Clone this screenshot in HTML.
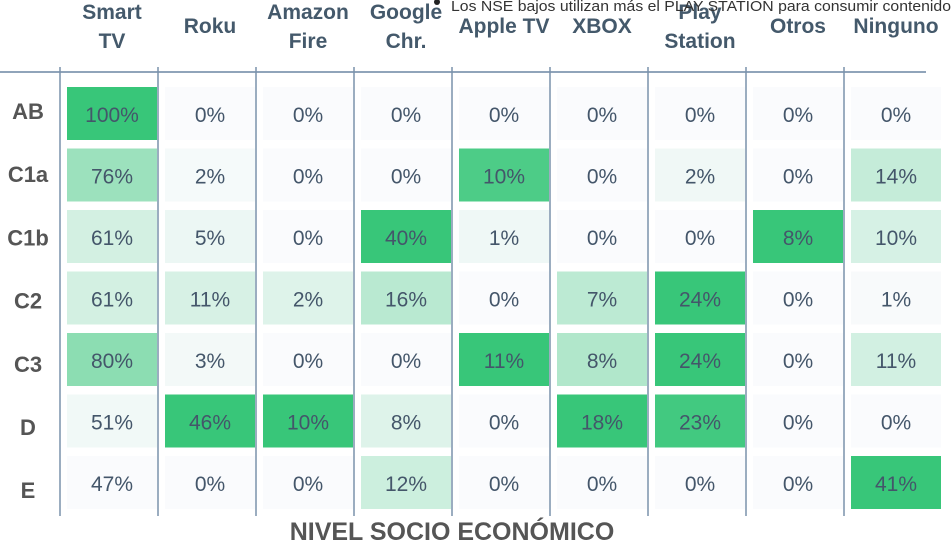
<!DOCTYPE html>
<html><head><meta charset="utf-8"><style>
html,body{margin:0;padding:0;background:#fff;width:951px;height:552px;overflow:hidden}
svg{display:block}
</style></head><body>
<svg id="chart" width="951" height="552" font-family="Liberation Sans, DejaVu Sans, sans-serif">
<g id="grid"></g>
<g id="cells"></g>
<g id="heads"></g>
<g id="rowl"></g>
<circle cx="437" cy="2" r="3" fill="#222"/>
<text x="451" y="11" font-size="14.5" fill="#333" textLength="500" lengthAdjust="spacingAndGlyphs">Los NSE bajos utilizan más el PLAY STATION para consumir contenido</text>
<text x="452" y="540" text-anchor="middle" font-size="25" font-weight="bold" fill="#555">NIVEL SOCIO ECONÓMICO</text>
</svg>
<script>
const columns = [["Smart","TV"],["Roku"],["Amazon","Fire"],["Google","Chr."],["Apple TV"],["XBOX"],["Play","Station"],["Otros"],["Ninguno"]];
const rows = ["AB","C1a","C1b","C2","C3","D","E"];
const values = [
 [100,0,0,0,0,0,0,0,0],
 [76,2,0,0,10,0,2,0,14],
 [61,5,0,40,1,0,0,8,10],
 [61,11,2,16,0,7,24,0,1],
 [80,3,0,0,11,8,24,0,11],
 [51,46,10,8,0,18,23,0,0],
 [47,0,0,12,0,0,0,0,41]
];
const NS='http://www.w3.org/2000/svg';
const colX = i => 67 + i*98;
const rowY = j => 87 + j*61.5;
const cw=90, ch=53;
function mk(t,a,p){const e=document.createElementNS(NS,t);for(const k in a)e.setAttribute(k,a[k]);p.appendChild(e);return e;}
function mix(t){t=Math.pow(t,1.2);const a=[250,251,253],b=[56,198,121];return 'rgb('+a.map((v,i)=>Math.round(v+(b[i]-v)*t)).join(',')+')';}
const grid=document.getElementById('grid');
const hl=mk('line',{x1:0,x2:926,y1:72,y2:72,stroke:'#6b86a3','stroke-width':1.5},grid);


for(let i=0;i<columns.length;i++){
  const l=mk('line',{x1:colX(i)-7,x2:colX(i)-7,y1:67,y2:516,stroke:'#7a92ab','stroke-width':1.5},grid);
  
  
}
const cells=document.getElementById('cells');
for(let i=0;i<columns.length;i++){
  const col=values.map(r=>r[i]);const mn=Math.min(...col),mx=Math.max(...col);
  for(let j=0;j<rows.length;j++){
    const v=values[j][i];const t=mx>mn?(v-mn)/(mx-mn):0;
    const r=mk('rect',{x:colX(i),y:rowY(j),width:cw,height:ch,fill:mix(t)},cells);
    
    
    const tx=mk('text',{x:colX(i)+cw/2,y:rowY(j)+35,'text-anchor':'middle','font-size':21,fill:'#44566a'},cells);
    tx.textContent=v+'%';
    
    
  }
}
const heads=document.getElementById('heads');
columns.forEach((c,i)=>{
  const x=colX(i)+cw/2;
  const ys=c.length===2?[19,48]:[33];
  c.forEach((w,k)=>{
    const t=mk('text',{x:x,y:ys[k],'text-anchor':'middle','font-size':21,'font-weight':'bold',fill:'#44596b'},heads);
    t.textContent=w;
    
    
  });
});
const rl=document.getElementById('rowl');
rows.forEach((r,j)=>{
  const t=mk('text',{x:28,y:119+j*63.2,'text-anchor':'middle','font-size':22,'font-weight':'bold',fill:'#555'},rl);
  t.textContent=r;
  
  
});
</script>
</body></html>
